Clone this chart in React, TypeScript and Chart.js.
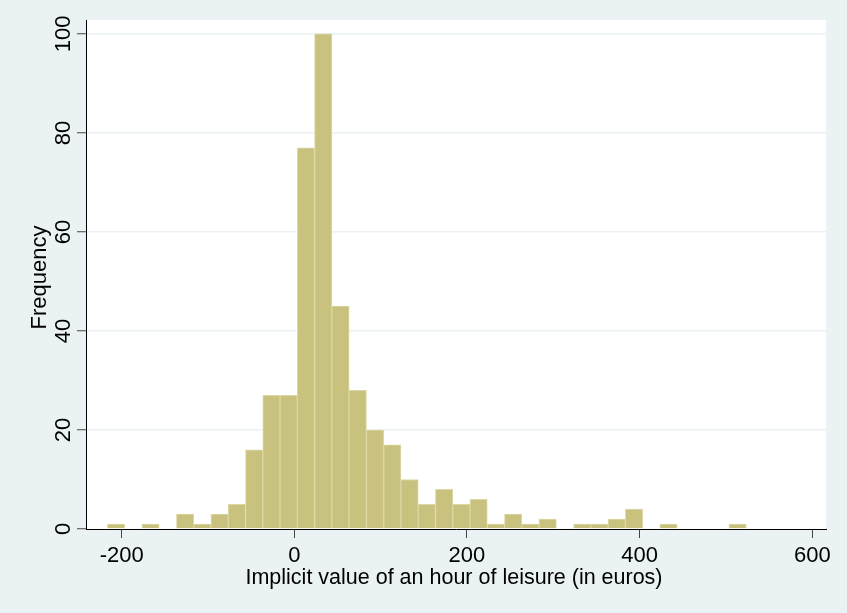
import React, { useEffect, useRef } from "react";
import { Chart, registerables } from "chart.js";

Chart.register(...registerables);

// Histogram: bin start and width (in euros)
const binStart = -216.5;
const binWidth = 20;
const counts = [1, 0, 1, 0, 3, 1, 3, 5, 16, 27, 27, 77, 100, 45, 28, 20, 17, 10, 5, 8, 5, 6, 1, 3, 1, 2, 0, 1, 1, 2, 4, 0, 1, 0, 0, 0, 1];
const xTicks = [-200, 0, 200, 400, 600];
const yTicks = [0, 20, 40, 60, 80, 100];
const xTitle = "Implicit value of an hour of leisure (in euros)";
const yTitle = "Frequency";

const BG = "#EAF2F3";
const FONT = '"Liberation Sans", Arial, Helvetica, sans-serif';

export default function App() {
  const ref = useRef<HTMLCanvasElement | null>(null);

  useEffect(() => {
    const canvas = ref.current;
    if (!canvas) return;
    const points = counts.map((c, i) => ({ x: binStart + binWidth * i + binWidth / 2, y: c }));

    const bgPlugin = {
      id: "stataBackground",
      beforeDraw(chart: any) {
        const ctx = chart.ctx;
        const a = chart.chartArea;
        ctx.save();
        ctx.fillStyle = BG;
        ctx.fillRect(0, 0, chart.width, chart.height);
        ctx.fillStyle = "#FFFFFF";
        ctx.fillRect(a.left, a.top, a.right - a.left, a.bottom - a.top);
        ctx.restore();
      },
    };

    const labelPlugin = {
      id: "stataLabels",
      afterDraw(chart: any) {
        const ctx = chart.ctx;
        const xs = chart.scales.x;
        const ys = chart.scales.y;
        const area = chart.chartArea;
        ctx.save();
        ctx.fillStyle = "#000";
        ctx.textBaseline = "alphabetic";
        ctx.textAlign = "center";
        ctx.font = `22px ${FONT}`;
        xTicks.forEach((v) => {
          ctx.fillText(String(v), xs.getPixelForValue(v), 562);
        });
        yTicks.forEach((v) => {
          ctx.save();
          ctx.translate(70, ys.getPixelForValue(v));
          ctx.rotate(-Math.PI / 2);
          ctx.fillText(String(v), 0, 0);
          ctx.restore();
        });
        ctx.save();
        ctx.translate(46, (area.top + area.bottom) / 2 + 3);
        ctx.rotate(-Math.PI / 2);
        ctx.font = `22px ${FONT}`;
        ctx.fillText(yTitle, 0, 0);
        ctx.restore();
        ctx.font = `21.5px ${FONT}`;
        ctx.fillText(xTitle, (area.left + area.right) / 2 - 2, 583.5);
        ctx.restore();
      },
    };

    const chart = new Chart(canvas, {
      type: "bar",
      data: {
        datasets: [
          {
            data: points,
            backgroundColor: "#C9C27E",
            borderColor: "#DCD7A4",
            borderWidth: 1,
            barPercentage: 1,
            categoryPercentage: 1,
          },
        ],
      },
      options: {
        animation: false,
        responsive: false,
        layout: { padding: { left: 0, top: 20, right: 21, bottom: 0 } },
        plugins: { legend: { display: false }, tooltip: { enabled: false } },
        scales: {
          x: {
            type: "linear",
            offset: false,
            min: -241.3,
            max: 615.9,
            afterBuildTicks: (scale: any) => {
              scale.ticks = xTicks.map((v) => ({ value: v }));
            },
            afterFit: (scale: any) => {
              scale.height = 84;
            },
            ticks: { display: false },
            grid: {
              offset: false,
              drawOnChartArea: false,
              drawTicks: true,
              tickLength: 9,
              tickColor: "#444",
              tickWidth: 1,
            },
            border: { display: true, color: "#000", width: 1 },
          },
          y: {
            type: "linear",
            min: 0,
            max: 102.8,
            afterBuildTicks: (scale: any) => {
              scale.ticks = yTicks.map((v) => ({ value: v }));
            },
            afterFit: (scale: any) => {
              scale.width = 86;
            },
            ticks: { display: false },
            grid: {
              drawOnChartArea: true,
              drawTicks: true,
              tickLength: 9,
              tickColor: "#444",
              tickWidth: 1,
              lineWidth: 1.5,
              color: (c: any) => (c.tick && c.tick.value === 0 ? "rgba(0,0,0,0)" : BG),
            },
            border: { display: true, color: "#000", width: 1 },
          },
        },
      },
      plugins: [bgPlugin, labelPlugin],
    });

    return () => chart.destroy();
  }, []);

  return (
    <div
      style={{
        position: "fixed",
        left: 0,
        top: 0,
        width: 847,
        height: 613,
        background: BG,
      }}
    >
      <canvas ref={ref} width={847} height={613} style={{ display: "block", width: 847, height: 613 }} />
    </div>
  );
}
